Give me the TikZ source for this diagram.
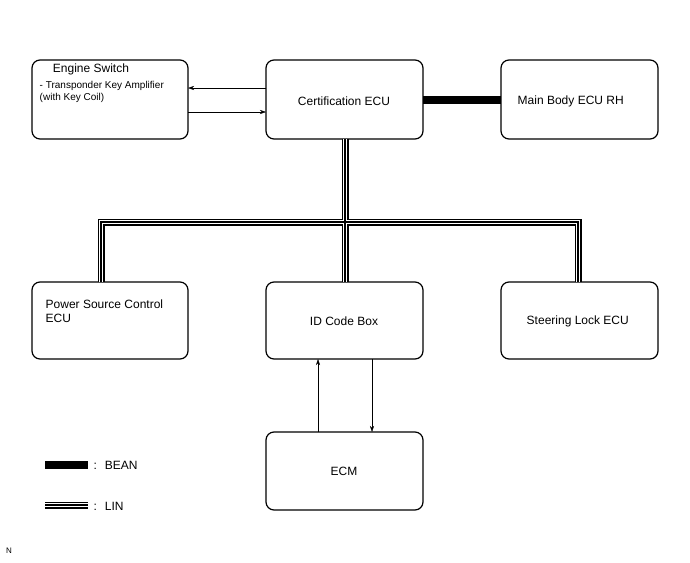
\documentclass[tikz,border=0pt]{standalone}
\usepackage{fontspec}
\setmainfont{Liberation Sans}
\usetikzlibrary{arrows.meta}

\begin{document}
\begin{tikzpicture}[x=1pt, y=-1pt, thick,
    ecu/.style={draw, rounded corners=8pt, line width=1.2pt},
    lbl/.style={font=\fontsize{12}{14}\selectfont},
    bean/.style={line width=8pt},
    lin/.style={line width=7pt, postaction={draw=white, line width=4.6pt,
        postaction={draw=black, line width=2.6pt}}},
    sig/.style={thin, -{Stealth[length=6pt, width=4pt]}}]
        \useasboundingbox (0,0) rectangle (690,562);
        % Boxes
        \draw[ecu] (32,60) rectangle (188,139);
        \draw[ecu] (266,60) rectangle (423,139);
        \draw[ecu] (501,60) rectangle (658,139);
        \draw[ecu] (32,282) rectangle (188,359);
        \draw[ecu] (266,282) rectangle (423,359);
        \draw[ecu] (501,282) rectangle (658,359);
        \draw[ecu] (266,432) rectangle (423,510);
        % Named anchors
        \coordinate (eng) at (188,100);
        \coordinate (cert) at (345,139);
        \coordinate (certL) at (266,100);
        \coordinate (certR) at (423,100);
        \coordinate (body) at (501,100);
        \coordinate (bus) at (345,222);
        \coordinate (pwr) at (101,282);
        \coordinate (idc) at (345,282);
        \coordinate (steer) at (578,282);
        % Labels
        \node[lbl] at (91,69) {Engine Switch};
        \node[font=\fontsize{10}{12}\selectfont, align=left, anchor=north west] at (36,78)
            {- Transponder Key Amplifier\\(with Key Coil)};
        \node[lbl] at (344,101) {Certification ECU};
        \node[lbl, anchor=west] at (514,101) {Main Body ECU RH};
        \node[lbl, align=left, anchor=north west] at (42,296) {Power Source Control\\ECU};
        \node[lbl] at (344,321) {ID Code Box};
        \node[lbl, anchor=west] at (523,321) {Steering Lock ECU};
        \node[lbl] at (344,471) {ECM};
        % BEAN
        \draw[bean] (certR) -- (body);
        % LIN
        \draw[lin] (cert) -- (idc) (pwr) |- (bus) -| (steer);
        % Signals
        \draw[sig] (266,88) -- (188,88);
        \draw[sig] (188,112) -- (266,112);
        \draw[sig] (318,432) -- (318,359);
        \draw[sig] (372,359) -- (372,432);
        % Legend
        \draw[bean] (45,465) -- (88,465);
        \node[lbl, anchor=west] at (90,465) {: \ BEAN};
        \draw[lin] (45,505) -- (88,505);
        \node[lbl, anchor=west] at (90,506) {: \ LIN};
        \node[font=\fontsize{8}{10}\selectfont] at (9,551) {N};
\end{tikzpicture}
\end{document}
